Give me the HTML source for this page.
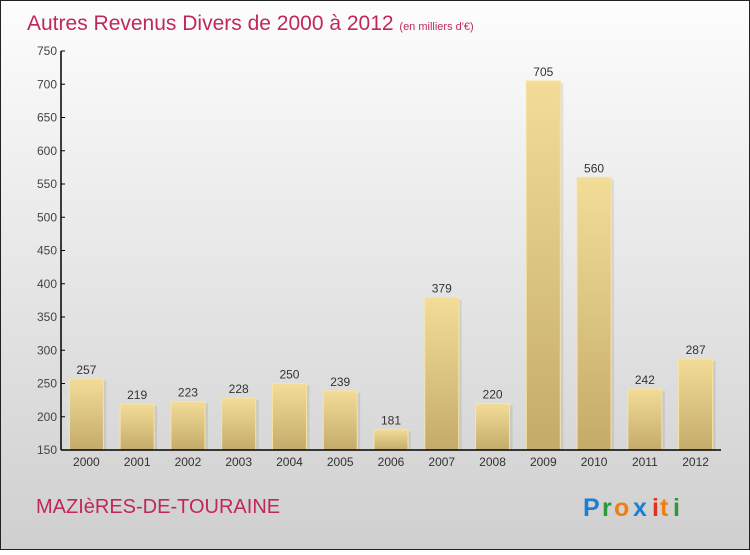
<!DOCTYPE html>
<html><head><meta charset="utf-8"><style>
body{margin:0;width:750px;height:550px;overflow:hidden;font-family:"Liberation Sans",sans-serif}
</style></head><body>
<svg width="750" height="550" xmlns="http://www.w3.org/2000/svg">
<defs>
<linearGradient id="bg" x1="0" y1="0" x2="0" y2="1"><stop offset="0" stop-color="#fdfdfd"/><stop offset="1" stop-color="#cfcfcf"/></linearGradient>
<linearGradient id="bar" x1="0" y1="0" x2="0" y2="1"><stop offset="0" stop-color="#f3dc98"/><stop offset="1" stop-color="#c4ab6a"/></linearGradient>
</defs>
<rect x="0.5" y="0.5" width="749" height="549" fill="url(#bg)" stroke="#222"/>
<text x="27" y="30" font-size="21" fill="#c0285a">Autres Revenus Divers de 2000 à 2012 <tspan font-size="11">(en milliers d'€)</tspan></text>
<g id="plot"></g>
<text x="36" y="513" font-size="20" fill="#c0285a">MAZIèRES-DE-TOURAINE</text>
<g font-size="25" font-weight="bold">
<text x="583" y="516" fill="#1e7fd0">P</text><text x="602" y="516" fill="#2a9a3a">r</text><text x="614" y="516" fill="#f07d10">o</text><text x="633" y="516" fill="#1e7fd0">x</text><text x="652" y="516" fill="#e03020">i</text><text x="660" y="516" fill="#f07d10">t</text><text x="673" y="516" fill="#2a9a3a">i</text>
</g>
</svg>
<script>
const categories=["2000","2001","2002","2003","2004","2005","2006","2007","2008","2009","2010","2011","2012"];
const values=[257,219,223,228,250,239,181,379,220,705,560,242,287];
const yTicks=[150,200,250,300,350,400,450,500,550,600,650,700,750];
const NS="http://www.w3.org/2000/svg";
const g=document.getElementById('plot');
const x0=61,x1=721,yMin=150,yMax=750,yb=450,yt=51;
const y=v=>yb-(v-yMin)/(yMax-yMin)*(yb-yt);
const bw=(x1-x0)/categories.length;
const xc=i=>x0+bw*(i+0.5);
function el(t,a){const e=document.createElementNS(NS,t);for(const k in a)e.setAttribute(k,a[k]);g.appendChild(e);return e;}
yTicks.forEach(v=>{
 const t=el('text',{x:x0-4,y:y(v)+4,'text-anchor':'end','font-size':12,fill:'#444'});t.textContent=v;
 
 
 const l=el('line',{x1:x0,x2:x0+4,y1:y(v),y2:y(v),stroke:'#000'});
 
 
});
categories.forEach((c,i)=>{
 const v=values[i],w=34,x=xc(i)-w/2;
 const s=el('rect',{x:x+3,y:y(v)+2,width:w,height:yb-y(v)-2,fill:'#000','fill-opacity':0.08});
 
 
 const r=el('rect',{x:x,y:y(v),width:w,height:yb-y(v),fill:'url(#bar)',stroke:'#f6e4a4','stroke-width':1});
 
 
 const t=el('text',{x:xc(i),y:y(v)-5,'text-anchor':'middle','font-size':12,fill:'#333'});t.textContent=v;
 
 
 const tx=el('text',{x:xc(i),y:466,'text-anchor':'middle','font-size':12,fill:'#333'});tx.textContent=c;
 
 
});
const ya=el('line',{x1:x0,x2:x0,y1:yt,y2:yb,stroke:'#000','stroke-width':1.5});


const xa=el('line',{x1:x0,x2:x1,y1:yb,y2:yb,stroke:'#000','stroke-width':1.5});


</script>
</body></html>
